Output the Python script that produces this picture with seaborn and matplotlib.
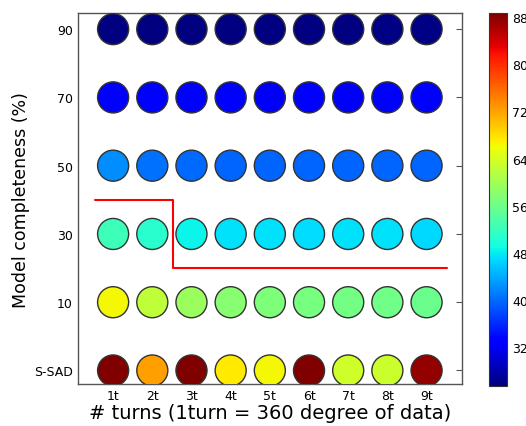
import numpy as np
import pandas as pd
import seaborn as sns
import matplotlib
matplotlib.use('Agg')
import matplotlib.pyplot as plt
from matplotlib.colors import Normalize
from matplotlib.cm import ScalarMappable

turns = ['1t', '2t', '3t', '4t', '5t', '6t', '7t', '8t', '9t']
row_pos = [90, 70, 50, 30, 10, -10]
row_labels = ['90', '70', '50', '30', '10', 'S-SAD']

# one list per completeness row (colour value of each circle)
vals_90 = [25.5, 25.5, 25.6, 25.5, 25.6, 25.6, 25.5, 25.7, 25.8]
vals_70 = [33.3, 32.6, 32.4, 32.4, 32.3, 32.4, 32.3, 32.4, 32.5]
vals_50 = [42.0, 40.3, 39.8, 39.6, 39.5, 39.5, 39.6, 39.6, 39.6]
vals_30 = [52.3, 50.7, 48.4, 47.2, 47.4, 47.0, 47.2, 47.2, 46.8]
vals_10 = [66.3, 62.0, 59.5, 57.8, 57.2, 56.8, 56.5, 56.2, 55.8]
vals_ssad = [88.7, 72.3, 88.6, 67.4, 66.2, 88.7, 63.4, 63.2, 87.6]

step_x = [0.54, 2.53, 2.53, 9.53]
step_y = [40, 40, 20, 20]

rows = [vals_90, vals_70, vals_50, vals_30, vals_10, vals_ssad]
df = pd.DataFrame([
    {'turn': i + 1, 'y': row_pos[r], 'val': v}
    for r, row in enumerate(rows) for i, v in enumerate(row)
])

vmin, vmax = 25.4, 88.7
norm = Normalize(vmin=vmin, vmax=vmax)
jet = matplotlib.colormaps['jet']

sns.set_style('white')
plt.rcParams['font.family'] = ['DejaVu Sans']
plt.rcParams['text.color'] = 'black'
plt.rcParams['axes.labelcolor'] = 'black'
plt.rcParams['xtick.color'] = 'black'
plt.rcParams['ytick.color'] = 'black'

fig = plt.figure(figsize=(5.26, 4.27), dpi=100)
ax = fig.add_axes([0.148, 0.098, 0.730, 0.869])
cax = fig.add_axes([0.930, 0.094, 0.034, 0.873])

sns.scatterplot(data=df, x='turn', y='y', hue='val', palette=jet, hue_norm=norm,
                s=500, edgecolor='#333333', linewidth=1.0, legend=False, ax=ax, zorder=3)
ax.plot(step_x, step_y, color='red', lw=1.5, zorder=2)

ax.set_xlim(0.1, 9.9)
ax.set_ylim(-14, 94.7)
ax.set_xticks(range(1, 10))
ax.set_xticklabels(turns, fontsize=9)
ax.set_yticks(row_pos)
ax.set_yticklabels(row_labels, fontsize=9)
ax.tick_params(direction='in', length=4, top=True, right=True, color='#555555', width=0.8)
ax.set_xlabel('# turns (1turn = 360 degree of data)', fontsize=14, labelpad=1)
ax.set_ylabel('Model completeness (%)', fontsize=12.5, labelpad=3)
for sp in ax.spines.values():
    sp.set_color('#555555')
    sp.set_linewidth(1.0)

sm = ScalarMappable(norm=norm, cmap=jet)
cb = fig.colorbar(sm, cax=cax)
cb.set_ticks([32, 40, 48, 56, 64, 72, 80, 88])
cb.ax.tick_params(labelsize=9, direction='in', length=4, width=0.8)
cb.outline.set_edgecolor('#333333')

fig.savefig('out.png', dpi=100, facecolor='white')
